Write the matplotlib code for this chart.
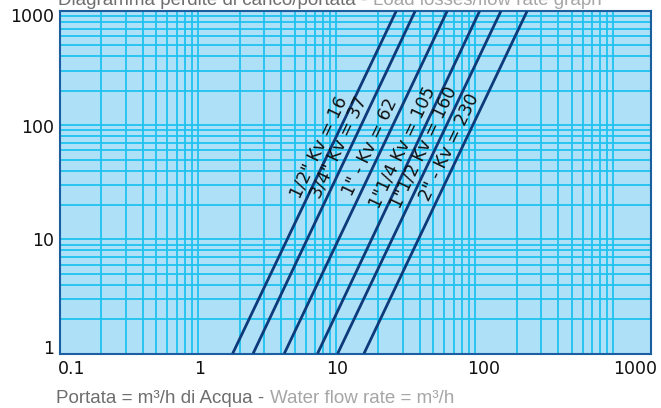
import numpy as np
import matplotlib
matplotlib.use("Agg")
import matplotlib.pyplot as plt
from matplotlib.ticker import LogLocator, FixedLocator, NullFormatter, FixedFormatter
from matplotlib.transforms import ScaledTranslation

# ---- data ----
kv_labels = ['1/2" Kv = 16', '3/4" Kv = 37', '1" - Kv = 62',
             '1"1/4 Kv = 105', '1"1/2 Kv = 160', '2" - Kv = 230']
flow_at_bottom = [1.78, 2.5, 4.2, 7.3, 10.2, 15.8]    # m3/h at y = 1
flow_at_top = [27.0, 37.0, 63.0, 108.0, 154.0, 238.0]  # m3/h at y = 1000
loss_range = [1, 1000]
x_ticks = [0.1, 1, 10, 100, 1000]
x_ticklabels = ['0.1', '1', '10', '100', '1000']
y_ticks = [1, 10, 100, 1000]
y_ticklabels = ['1', '10', '100', '1000']

BG = '#aee0f8'
GRID = '#1fc2f0'
SPINE = '#1b5fa0'
LINE = '#0c3a7a'
DARKGREY = '#6e6e6e'
LIGHTGREY = '#a6a6a6'
NARROW = ['Liberation Sans', 'DejaVu Sans']

W, H = 661, 408
fig = plt.figure(figsize=(W / 100, H / 100), dpi=100)
ax = fig.add_axes([59.5 / W, 1 - 353.5 / H, (650.5 - 59.5) / W, (353.5 - 11) / H])
ax.set_facecolor(BG)
ax.set_xscale('log')
ax.set_yscale('log')
ax.set_xlim(0.1, 1850)
ax.set_ylim(1, 1000)

ax.xaxis.set_major_locator(FixedLocator(x_ticks))
ax.xaxis.set_major_formatter(FixedFormatter(x_ticklabels))
ax.yaxis.set_major_locator(FixedLocator(y_ticks))
ax.yaxis.set_major_formatter(FixedFormatter(y_ticklabels))
for axis in (ax.xaxis, ax.yaxis):
    axis.set_minor_locator(LogLocator(base=10, subs=np.arange(2, 10)))
    axis.set_minor_formatter(NullFormatter())
ax.grid(True, which='both', color=GRID, linewidth=1.3)
ax.set_axisbelow(True)
ax.tick_params(which='both', length=0)
ax.tick_params(axis='x', pad=5, labelsize=12.5, labelcolor='#111111')
ax.tick_params(axis='y', pad=4, labelsize=12.5, labelcolor='#111111')
for s in ax.spines.values():
    s.set_color(SPINE)
    s.set_linewidth(1.5)

# Kv lines
for qb, qt in zip(flow_at_bottom, flow_at_top):
    ax.plot([qb, qt], loss_range, color=LINE, linewidth=2.0, solid_capstyle='butt', zorder=3)

# rotated labels along the lines
y_lab = 58.0
for lab, qb, qt in zip(kv_labels, flow_at_bottom, flow_at_top):
    frac = np.log10(y_lab) / 3.0
    xq = 10 ** (np.log10(qb) + frac * (np.log10(qt) - np.log10(qb)))
    p0 = ax.transData.transform((qb, 1))
    p1 = ax.transData.transform((qt, 1000))
    th = np.arctan2(p1[1] - p0[1], p1[0] - p0[0])
    d = 11.0
    off = (-np.sin(th) * d, np.cos(th) * d)
    ax.annotate(lab, xy=(xq, y_lab), xytext=off, textcoords='offset pixels',
                rotation=np.degrees(th), rotation_mode='anchor',
                ha='center', va='center', fontsize=12.5, color='#111111', zorder=4)

# per-label nudges to mimic the reference placement
xoffs = [12, 2, 1, 9, 22]
for lab, dx in zip(ax.get_xticklabels(), xoffs):
    lab.set_transform(lab.get_transform() + ScaledTranslation(dx / 100, 0, fig.dpi_scale_trans))
yoffs = [6, 0, -1, -4]
for lab, dy in zip(ax.get_yticklabels(), yoffs):
    lab.set_transform(lab.get_transform() + ScaledTranslation(0, dy / 100, fig.dpi_scale_trans))

# two-tone texts (title cut at the top, x label at the bottom)
fig.canvas.draw()
r = fig.canvas.get_renderer()

def two_tone(x_px, y_px_from_top, a, b, size):
    t1 = fig.text(x_px / W, 1 - y_px_from_top / H, a, color=DARKGREY, fontsize=size,
                  family=NARROW, ha='left', va='baseline')
    bb = t1.get_window_extent(renderer=r)
    fig.text(bb.x1 / W, 1 - y_px_from_top / H, b, color=LIGHTGREY, fontsize=size,
             family=NARROW, ha='left', va='baseline')

two_tone(58, 5, 'Diagramma perdite di carico/portata - ', 'Load losses/flow rate graph', 13.5)
two_tone(56, 403, 'Portata = m³/h di Acqua - ', 'Water flow rate = m³/h', 13.5)

fig.savefig('out.png', dpi=100)
